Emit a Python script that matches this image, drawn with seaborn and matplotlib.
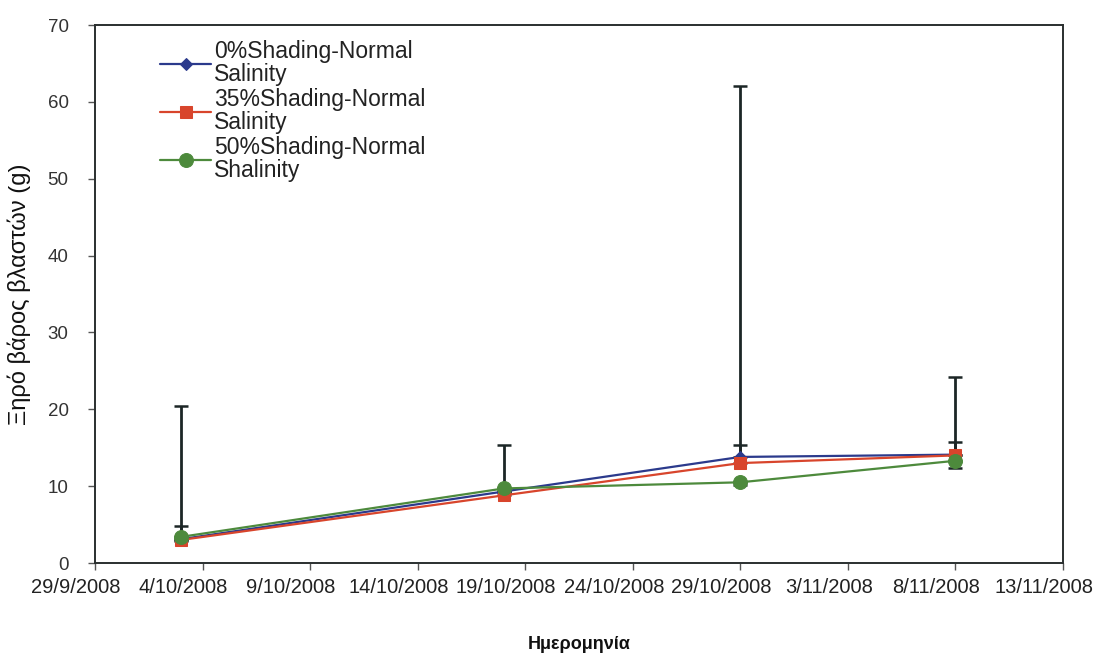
import matplotlib
matplotlib.use("Agg")
import matplotlib.pyplot as plt
from matplotlib.transforms import ScaledTranslation
import seaborn as sns
import pandas as pd
import numpy as np

# ---- data ----
dates = ["2008-10-03", "2008-10-18", "2008-10-29", "2008-11-08"]
s0_values = [3.1, 9.3, 13.8, 14.1]        # 0%Shading-Normal Salinity
s35_values = [3.0, 8.8, 13.0, 14.0]       # 35%Shading-Normal Salinity
s50_values = [3.4, 9.7, 10.5, 13.3]       # 50%Shading-Normal Shalinity
s0_err_top = [20.4, 15.3, 62.0, 24.2]     # upper end of error bar
s35_err_top = [4.8, 9.4, 15.3, 15.8]
s50_err_bottom = [2.8, 9.2, 10.1, 12.4]   # lower end of error bar
labels = ["0%Shading-Normal\nSalinity", "35%Shading-Normal\nSalinity",
          "50%Shading-Normal\nShalinity"]
tick_dates = ["2008-09-29", "2008-10-04", "2008-10-09", "2008-10-14", "2008-10-19",
              "2008-10-24", "2008-10-29", "2008-11-03", "2008-11-08", "2008-11-13"]
tick_labels = ["29/9/2008", "4/10/2008", "9/10/2008", "14/10/2008", "19/10/2008",
               "24/10/2008", "29/10/2008", "3/11/2008", "8/11/2008", "13/11/2008"]
y_ticks = [0, 10, 20, 30, 40, 50, 60, 70]
xlabel = "Ημερομηνία"
ylabel = "Ξηρό βάρος βλαστών (g)"

sns.set_theme(style="white")
plt.rcParams["font.family"] = ["Liberation Sans", "DejaVu Sans"]

x = pd.to_datetime(dates)
df = pd.DataFrame({"date": x, "s0": s0_values, "s35": s35_values, "s50": s50_values})

fig = plt.figure(figsize=(11.16, 6.58), dpi=100)
ax = fig.add_axes([95 / 1116, 1 - 563 / 658, (1063 - 95) / 1116, (563 - 25) / 658])

err_col = "#1c2626"
ekw = dict(fmt="none", ecolor=err_col, elinewidth=2.0, capsize=5, capthick=1.8, zorder=1)
ax.errorbar(x, s0_values, yerr=[np.zeros(4), np.array(s0_err_top) - np.array(s0_values)], **ekw)
ax.errorbar(x, s35_values, yerr=[np.zeros(4), np.array(s35_err_top) - np.array(s35_values)], **ekw)
ax.errorbar(x, s50_values, yerr=[np.array(s50_values) - np.array(s50_err_bottom), np.zeros(4)], **ekw)

c0, c35, c50 = "#2b3a8c", "#d8452c", "#4d8a3c"
sns.lineplot(data=df, x="date", y="s0", ax=ax, color=c0, marker="D", markersize=6,
             markeredgecolor=c0, linewidth=1.6, label=labels[0], zorder=3)
sns.lineplot(data=df, x="date", y="s35", ax=ax, color=c35, marker="s", markersize=9,
             markeredgecolor=c35, linewidth=1.6, label=labels[1], zorder=3)
sns.lineplot(data=df, x="date", y="s50", ax=ax, color=c50, marker="o", markersize=10,
             markeredgecolor=c50, linewidth=1.6, label=labels[2], zorder=4)

ax.set_xlim(pd.Timestamp("2008-09-29"), pd.Timestamp("2008-11-13"))
ax.set_ylim(0, 70)
ax.set_xticks(pd.to_datetime(tick_dates))
ax.set_xticklabels(tick_labels, fontsize=14.5, color="#222222")
ax.set_yticks(y_ticks)
ax.set_yticklabels([str(v) for v in y_ticks], fontsize=13.5, color="#333333")

for sp in ax.spines.values():
    sp.set_color("#2a2f2f")
    sp.set_linewidth(1.4)
ax.tick_params(axis="both", which="major", direction="out", length=5, width=1,
               color="#555555", bottom=True, left=True)
ax.tick_params(axis="y", pad=14)
ax.tick_params(axis="x", pad=6)
# shift x tick labels to the left (as in reference)
for lab in ax.xaxis.get_majorticklabels():
    lab.set_transform(lab.get_transform() + ScaledTranslation(-19 / 100, 0, fig.dpi_scale_trans))

ax.set_xlabel(xlabel, fontsize=13, fontweight="bold", labelpad=28, color="#111111")
ax.set_ylabel(ylabel, fontsize=17, fontweight="normal", labelpad=12, color="#111111")

leg = ax.legend(loc="upper left", bbox_to_anchor=(0.058, 0.99), frameon=False,
                fontsize=16.5, handlelength=2.2, handletextpad=0.15, labelspacing=0.1,
                borderaxespad=0)
for t in leg.get_texts():
    t.set_linespacing(1.0)
    t.set_color("#222222")

fig.savefig("out.png", dpi=100, facecolor="white")
